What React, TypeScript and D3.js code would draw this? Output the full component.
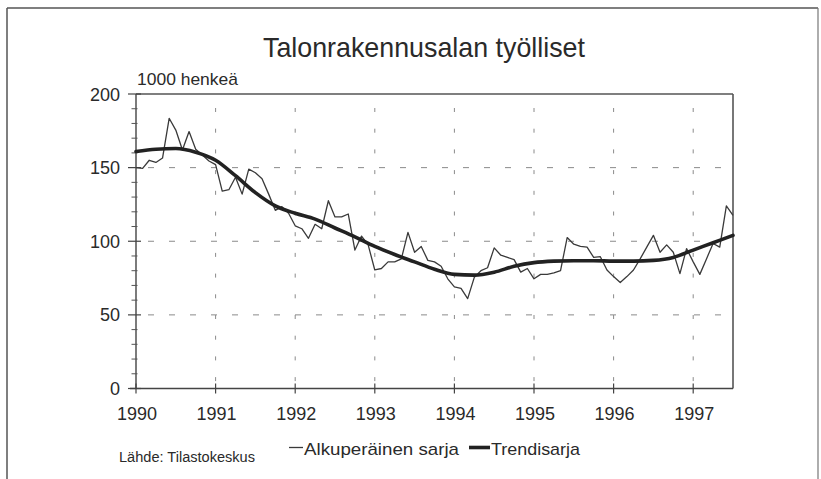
import React from "react";
import * as d3 from "d3";

// ---- data ----
const startYear = 1990;
// monthly original series, Jan 1990 .. Jul 1997 (1000 persons)
const originalSeries: number[] = [
  150, 149.5, 155, 153.5, 156.5, 183.5, 175.5, 162, 174.5, 162.5, 158.5, 154.5,
  152, 134, 135, 143.5, 132, 149, 146.5, 142.5, 132, 121, 123.5, 119,
  110.5, 108.5, 102, 111.5, 108.5, 127.5, 116.5, 116.5, 118.5, 94, 103.5, 97.5,
  80.5, 81.5, 86, 86, 88, 106, 92.5, 96.5, 87, 86, 83, 74.5,
  69, 68, 61, 75.5, 80, 82, 95.5, 90.5, 89, 87.5, 79, 81.5,
  74.5, 77.5, 77.5, 78.5, 80, 102.5, 98, 96.5, 96, 89, 89.5, 80.5,
  76, 72, 76, 80.5, 88, 96, 104, 92.5, 97.5, 92.5, 78, 95,
  86, 77.5, 88, 98.5, 96, 124, 117.5,
];
// quarterly trend series, 1990.0 .. 1997.5
const trendSeries: number[] = [
  161, 162.5, 163, 160.5, 155, 144.5, 133, 124, 119, 115, 109, 103,
  96.5, 91, 86, 81, 77.5, 77, 79, 83, 85.5, 86.5, 86.8, 86.8,
  86.5, 86.5, 87, 89, 94, 99, 104,
];
const yearTicks: number[] = [1990, 1991, 1992, 1993, 1994, 1995, 1996, 1997];
const valueTicks: number[] = [0, 50, 100, 150, 200];
const minorValueTicks: number[] = d3.range(0, 201, 10);

const title = "Talonrakennusalan työlliset";
const unitLabel = "1000 henkeä";
const sourceLabel = "Lähde: Tilastokeskus";
const legendOriginal = "Alkuperäinen sarja";
const legendTrend = "Trendisarja";

const FONT = "'Liberation Sans', Arial, Helvetica, sans-serif";

export default function App() {
  const W = 821;
  const H = 479;
  const left = 136;
  const right = 733;
  const top = 94;
  const bottom = 388.5;

  const x = d3.scaleLinear().domain([1990, 1997.5]).range([left, right]);
  const y = d3.scaleLinear().domain([0, 200]).range([bottom, top]);

  const origLine = d3
    .line<number>()
    .x((_, i) => x(startYear + i / 12))
    .y((d) => y(d));
  const trendLine = d3
    .line<number>()
    .x((_, i) => x(startYear + i / 4))
    .y((d) => y(d))
    .curve(d3.curveMonotoneX);

  const ink = "#2a2a2a";
  const gridColor = "#8a8a8a";

  return (
    <svg
      width={W}
      height={H}
      viewBox={`0 0 ${W} ${H}`}
      style={{ position: "absolute", left: 0, top: 0, background: "#fff" }}
      fontFamily={FONT}
    >
      <rect x={0} y={0} width={W} height={H} fill="#fff" />
      {/* outer frame */}
      <line x1={7} y1={8} x2={818} y2={8} stroke="#555" strokeWidth={1.5} />
      <line x1={7} y1={8} x2={7} y2={H} stroke="#555" strokeWidth={1.5} />
      <line x1={818} y1={8} x2={818} y2={H} stroke="#777" strokeWidth={1.2} />

      {/* title */}
      <text
        x={424}
        y={57}
        textAnchor="middle"
        fontSize={28}
        fill={ink}
        textLength={322}
        lengthAdjust="spacingAndGlyphs"
      >
        {title}
      </text>
      <text
        x={137}
        y={85}
        fontSize={17}
        fill={ink}
        textLength={101}
        lengthAdjust="spacingAndGlyphs"
      >
        {unitLabel}
      </text>

      {/* grid */}
      {valueTicks
        .filter((v) => v > 0 && v < 200)
        .map((v) => (
          <line
            key={"hg" + v}
            x1={left}
            x2={right}
            y1={y(v)}
            y2={y(v)}
            stroke={gridColor}
            strokeWidth={1}
            strokeDasharray="6 15"
            strokeDashoffset={-12}
          />
        ))}
      {yearTicks
        .filter((t) => t > 1990)
        .map((t) => (
          <line
            key={"vg" + t}
            x1={x(t)}
            x2={x(t)}
            y1={top}
            y2={bottom}
            stroke={gridColor}
            strokeWidth={1}
            strokeDasharray="4 16.7"
            strokeDashoffset={-14}
          />
        ))}

      {/* plot frame */}
      <line x1={left} x2={right} y1={top} y2={top} stroke="#555" strokeWidth={1.6} />
      <line x1={right} x2={right} y1={top} y2={bottom} stroke="#555" strokeWidth={1.6} />
      <line x1={left} x2={left} y1={top} y2={bottom} stroke="#444" strokeWidth={1.4} />
      <line x1={left - 6} x2={right} y1={bottom} y2={bottom} stroke="#444" strokeWidth={1.4} />

      {/* y ticks */}
      {minorValueTicks.map((v) =>
        v % 50 === 0 ? (
          <line key={"yt" + v} x1={128} x2={141} y1={y(v)} y2={y(v)} stroke="#444" strokeWidth={1.2} />
        ) : (
          <line key={"yt" + v} x1={131.5} x2={137.5} y1={y(v)} y2={y(v)} stroke="#555" strokeWidth={1} />
        )
      )}
      {valueTicks.map((v) => (
        <text key={"yl" + v} x={120} y={y(v) + 6.5} textAnchor="end" fontSize={18} fill={ink}>
          {v}
        </text>
      ))}

      {/* x ticks */}
      {yearTicks.map((t) => (
        <g key={"xt" + t}>
          <line x1={x(t)} x2={x(t)} y1={bottom - 5} y2={bottom + 5} stroke="#444" strokeWidth={1.2} />
          <text x={x(t) + 1} y={420} textAnchor="middle" fontSize={18} fill={ink}>
            {t}
          </text>
        </g>
      ))}

      {/* series */}
      <path d={origLine(originalSeries) || ""} fill="none" stroke="#3a3a3a" strokeWidth={1.3} strokeLinejoin="round" />
      <path d={trendLine(trendSeries) || ""} fill="none" stroke="#222" strokeWidth={3.6} strokeLinecap="round" />

      {/* footer: source and legend */}
      <text x={119} y={462} fontSize={14} fill={ink} textLength={136} lengthAdjust="spacingAndGlyphs">
        {sourceLabel}
      </text>
      <line x1={289} x2={303} y1={447.5} y2={447.5} stroke="#3a3a3a" strokeWidth={1.3} />
      <text x={304} y={455} fontSize={17} fill={ink} textLength={155} lengthAdjust="spacingAndGlyphs">
        {legendOriginal}
      </text>
      <line x1={469} x2={490} y1={447.5} y2={447.5} stroke="#222" strokeWidth={3.6} />
      <text x={491} y={455} fontSize={17} fill={ink} textLength={89} lengthAdjust="spacingAndGlyphs">
        {legendTrend}
      </text>
    </svg>
  );
}
